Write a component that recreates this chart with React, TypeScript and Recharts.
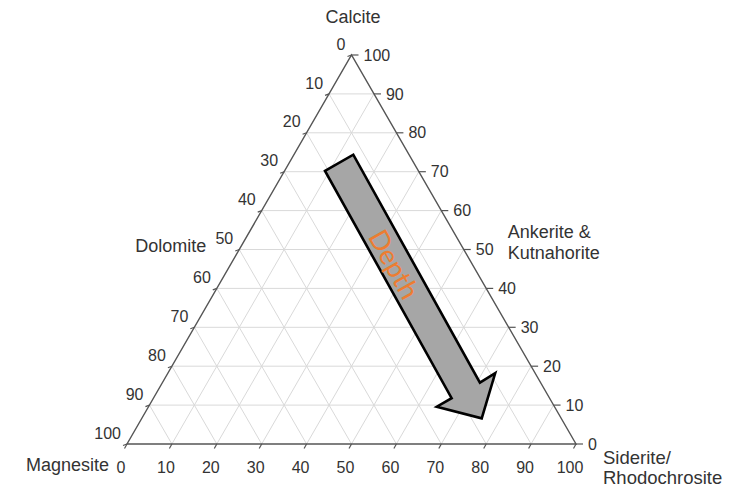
import React from 'react';
import { ComposedChart, XAxis, YAxis, Scatter } from 'recharts';

// Ternary diagram: s = Siderite/Rhodochrosite %, c = Calcite %, m = Magnesite % (= 100 - s - c)
const H = 86.6025;
const gridSteps = [10, 20, 30, 40, 50, 60, 70, 80, 90];
const bottomTicks = [0, 10, 20, 30, 40, 50, 60, 70, 80, 90, 100]; // Siderite axis
const leftTicks = [0, 10, 20, 30, 40, 50, 60, 70, 80, 90, 100]; // Magnesite axis (0 at apex)
const rightTicks = [0, 10, 20, 30, 40, 50, 60, 70, 80, 90, 100]; // Calcite axis (100 at apex)

// Depth arrow outline, in diagram units (x along base, y up)
const arrowX = [44.1, 50.4, 78.6, 82.0, 79.0, 69.0, 72.3];
const arrowY = [60.8, 64.4, 13.65, 15.75, 5.72, 8.3, 10.2];
const depthLabel = [{ x: 59.4, y: 40.0, text: 'Depth' }];

const tern = (s: number, c: number) => ({ x: s + c / 2, y: (c * H) / 100 });

const FONT = '"Liberation Sans", Arial, sans-serif';
const TXT = '#333333';
const AXIS = '#555555';
const GRID = '#d9d9d9';

const gridData: any[] = [];
gridSteps.forEach((k) => {
  gridData.push(tern(0, k), tern(100 - k, k));
  gridData.push(tern(k, 0), tern(k, 100 - k));
  gridData.push(tern(100 - k, 0), tern(0, 100 - k));
});
const borderData = [tern(0, 0), tern(100, 0), tern(0, 100)];
const arrowData = arrowX.map((x, i) => ({ x, y: arrowY[i] }));

const bottomData = bottomTicks.map((v) => ({ ...tern(v, 0), label: v }));
const leftData = leftTicks.map((v) => ({ ...tern(0, 100 - v), label: v }));
const rightData = rightTicks.map((v) => ({ ...tern(100 - v, v), label: v }));

const apex = [tern(0, 100)];
const leftMid = [tern(0, 50)];
const rightMid = [tern(50, 50)];
const leftCorner = [tern(0, 0)];
const rightCorner = [tern(100, 0)];

const None = () => <g />;

const segLines = (p: any) => {
  const pts = p.points || [];
  const out: any[] = [];
  for (let i = 0; i + 1 < pts.length; i += 2) {
    out.push(
      <line key={i} x1={pts[i].x} y1={pts[i].y} x2={pts[i + 1].x} y2={pts[i + 1].y} stroke={GRID} strokeWidth={1} />
    );
  }
  return <g>{out}</g>;
};

const borderLine = (p: any) => {
  const pts = p.points || [];
  return <polygon points={pts.map((q: any) => `${q.x},${q.y}`).join(' ')} fill="none" stroke={AXIS} strokeWidth={1.4} />;
};

const arrowLine = (p: any) => {
  const pts = p.points || [];
  return (
    <polygon
      points={pts.map((q: any) => `${q.x},${q.y}`).join(' ')}
      fill="#a6a6a6"
      stroke="#000"
      strokeWidth={2.6}
      strokeLinejoin="miter"
    />
  );
};

const BottomTick = (p: any) => (
  <g>
    <line x1={p.cx} y1={p.cy} x2={p.cx - 2.5} y2={p.cy + 4.5} stroke={AXIS} strokeWidth={1.2} />
    <text x={p.cx - 6} y={p.cy + 23} dy="0.35em" textAnchor="middle" fontSize={16} fill={TXT} fontFamily={FONT}>
      {p.payload.label}
    </text>
  </g>
);

const LeftTick = (p: any) => (
  <g>
    <line x1={p.cx} y1={p.cy} x2={p.cx - 4} y2={p.cy + 1.5} stroke={AXIS} strokeWidth={1.2} />
    <text x={p.cx - 6} y={p.cy - 11} dy="0.35em" textAnchor="end" fontSize={16} fill={TXT} fontFamily={FONT}>
      {p.payload.label}
    </text>
  </g>
);

const RightTick = (p: any) => (
  <g>
    <line x1={p.cx} y1={p.cy} x2={p.cx + 7} y2={p.cy} stroke={AXIS} strokeWidth={1.2} />
    <text x={p.cx + 12} y={p.cy} dy="0.35em" textAnchor="start" fontSize={16} fill={TXT} fontFamily={FONT}>
      {p.payload.label}
    </text>
  </g>
);

const title = (lines: string[], dx: number, dy: number, anchor: string, gap = 21, size = 18) => (p: any) => (
  <g>
    {lines.map((t, i) => (
      <text
        key={i}
        x={p.cx + dx}
        y={p.cy + dy + i * gap}
        dy="0.35em"
        textAnchor={anchor as any}
        fontSize={size}
        fill={TXT}
        fontFamily={FONT}
      >
        {t}
      </text>
    ))}
  </g>
);

const DepthText = (p: any) => (
  <text
    x={p.cx}
    y={p.cy}
    dy="0.35em"
    textAnchor="middle"
    fontSize={27}
    fill="#ed7d31"
    fontFamily='Lato, "Open Sans", sans-serif'
    transform={`rotate(61 ${p.cx} ${p.cy})`}
  >
    {p.payload.text}
  </text>
);

export default function App() {
  return (
    <div style={{ position: 'absolute', left: 0, top: 0, background: '#fff' }}>
      <ComposedChart width={732} height={489} margin={{ top: 55, right: 156, bottom: 45, left: 127 }}>
        <XAxis type="number" dataKey="x" domain={[0, 100]} hide />
        <YAxis type="number" dataKey="y" domain={[0, H]} hide />
        <Scatter data={gridData} shape={None} line={segLines} isAnimationActive={false} />
        <Scatter data={borderData} shape={None} line={borderLine} isAnimationActive={false} />
        <Scatter data={bottomData} shape={BottomTick} isAnimationActive={false} />
        <Scatter data={leftData} shape={LeftTick} isAnimationActive={false} />
        <Scatter data={rightData} shape={RightTick} isAnimationActive={false} />
        <Scatter data={apex} shape={title(['Calcite'], 1.5, -38, 'middle')} isAnimationActive={false} />
        <Scatter data={leftMid} shape={title(['Dolomite'], -104, -3.5, 'start')} isAnimationActive={false} />
        <Scatter data={rightMid} shape={title(['Ankerite &', 'Kutnahorite'], 44, -17.5, 'start')} isAnimationActive={false} />
        <Scatter data={leftCorner} shape={title(['Magnesite'], -18, 21, 'end')} isAnimationActive={false} />
        <Scatter data={rightCorner} shape={title(['Siderite/', 'Rhodochrosite'], 27, 14, 'start', 20, 18.5)} isAnimationActive={false} />
        <Scatter data={arrowData} shape={None} line={arrowLine} isAnimationActive={false} />
        <Scatter data={depthLabel} shape={DepthText} isAnimationActive={false} />
      </ComposedChart>
    </div>
  );
}
